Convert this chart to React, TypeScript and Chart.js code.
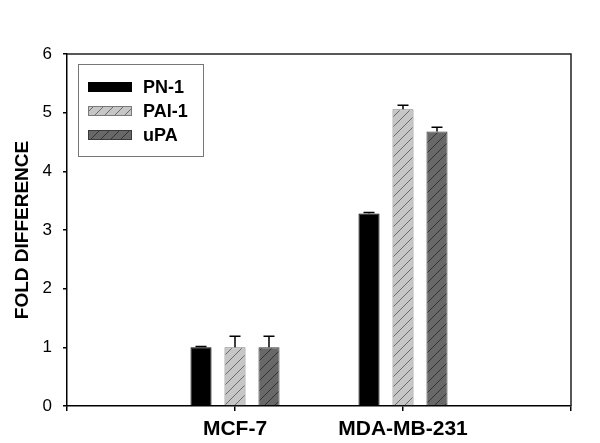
import React, { useEffect, useRef } from 'react';
import { Chart, registerables } from 'chart.js';

Chart.register(...registerables);

const categories = ['', 'MCF-7', 'MDA-MB-231', ''];
const seriesNames = ['PN-1', 'PAI-1', 'uPA'];
const pn1Values = [null, 1.0, 3.28, null];
const pn1Errors = [null, 0.015, 0.02, null];
const pai1Values = [null, 1.0, 5.06, null];
const pai1Errors = [null, 0.19, 0.065, null];
const upaValues = [null, 1.0, 4.68, null];
const upaErrors = [null, 0.19, 0.07, null];
const yTickValues = [0, 1, 2, 3, 4, 5, 6];
const yTitle = 'FOLD DIFFERENCE';

const FONT = 'Arial, "Liberation Sans", sans-serif';

function makeHatch(fill: string, line: string): CanvasPattern | string {
  const c = document.createElement('canvas');
  c.width = 10;
  c.height = 10;
  const ctx = c.getContext('2d');
  if (!ctx) return fill;
  ctx.fillStyle = fill;
  ctx.fillRect(0, 0, 10, 10);
  ctx.strokeStyle = line;
  ctx.lineWidth = 1;
  ctx.beginPath();
  ctx.moveTo(-1, 11);
  ctx.lineTo(11, -1);
  ctx.moveTo(-6, 6);
  ctx.lineTo(6, -6);
  ctx.moveTo(4, 16);
  ctx.lineTo(16, 4);
  ctx.stroke();
  const p = ctx.createPattern(c, 'repeat');
  return p || fill;
}

export default function App() {
  const ref = useRef<HTMLCanvasElement | null>(null);

  useEffect(() => {
    if (!ref.current) return;
    const paiPattern = makeHatch('#c6c6c6', '#6a6a6a');
    const upaPattern = makeHatch('#686868', '#333333');
    const errors = [pn1Errors, pai1Errors, upaErrors];

    const errorBars = {
      id: 'errorBars',
      afterDatasetsDraw(chart: any) {
        const ctx = chart.ctx;
        const yScale = chart.scales.y;
        ctx.save();
        ctx.strokeStyle = '#000';
        ctx.lineWidth = 1.5;
        chart.data.datasets.forEach((ds: any, di: number) => {
          const meta = chart.getDatasetMeta(di);
          meta.data.forEach((el: any, i: number) => {
            const v = ds.data[i];
            const e = errors[di][i];
            if (v == null || e == null) return;
            const yTop = yScale.getPixelForValue(v + e);
            const yBar = yScale.getPixelForValue(v);
            ctx.beginPath();
            ctx.moveTo(el.x, yBar);
            ctx.lineTo(el.x, yTop);
            ctx.moveTo(el.x - 5.5, yTop);
            ctx.lineTo(el.x + 5.5, yTop);
            ctx.stroke();
          });
        });
        ctx.restore();
      },
    };

    const frameAndLegend = {
      id: 'frameAndLegend',
      afterDraw(chart: any) {
        const ctx = chart.ctx;
        const a = chart.chartArea;
        ctx.save();
        ctx.strokeStyle = '#222';
        ctx.lineWidth = 1.5;
        ctx.beginPath();
        ctx.moveTo(a.left, a.top);
        ctx.lineTo(a.right, a.top);
        ctx.lineTo(a.right, a.bottom);
        ctx.stroke();

        // legend box
        const bx = a.left + 11;
        const by = a.top + 10;
        const bw = 125;
        const bh = 92;
        ctx.fillStyle = '#fff';
        ctx.fillRect(bx, by, bw, bh);
        ctx.strokeStyle = '#777';
        ctx.lineWidth = 1;
        ctx.strokeRect(bx + 0.5, by + 0.5, bw, bh);
        chart.data.datasets.forEach((ds: any, i: number) => {
          const cy = by + 23 + i * 24;
          ctx.fillStyle = ds.backgroundColor;
          ctx.fillRect(bx + 10, cy - 5, 44, 10);
          ctx.strokeStyle = ds.borderColor;
          ctx.lineWidth = 1;
          ctx.strokeRect(bx + 10.5, cy - 4.5, 43, 9);
          ctx.fillStyle = '#000';
          ctx.font = 'bold 18px ' + FONT;
          ctx.textBaseline = 'middle';
          ctx.textAlign = 'left';
          ctx.fillText(ds.label, bx + 65, cy + 1);
        });
        ctx.restore();
      },
    };

    const chart = new Chart(ref.current, {
      type: 'bar',
      data: {
        labels: categories,
        datasets: [
          {
            label: seriesNames[0],
            data: pn1Values,
            backgroundColor: '#000000',
            borderColor: '#000000',
            borderWidth: 1,
          },
          {
            label: seriesNames[1],
            data: pai1Values,
            backgroundColor: paiPattern as any,
            borderColor: '#7a7a7a',
            borderWidth: 1,
          },
          {
            label: seriesNames[2],
            data: upaValues,
            backgroundColor: upaPattern as any,
            borderColor: '#3a3a3a',
            borderWidth: 1,
          },
        ],
      },
      options: {
        responsive: false,
        animation: false,
        devicePixelRatio: 1,
        layout: { padding: { left: 0, top: 54, right: 29, bottom: 0 } },
        datasets: {
          bar: { categoryPercentage: 0.607, barPercentage: 0.62 },
        },
        plugins: {
          legend: { display: false },
          tooltip: { enabled: false },
          title: { display: false },
        },
        scales: {
          x: {
            type: 'category',
            offset: false,
            grid: {
              offset: false,
              drawOnChartArea: false,
              drawTicks: true,
              tickLength: 5,
              color: '#000',
              lineWidth: 1.5,
            },
            border: { display: true, color: '#000', width: 1.5 },
            ticks: {
              color: '#000',
              font: { family: FONT, size: 21, weight: 'bold' },
              padding: 6,
              maxRotation: 0,
              autoSkip: false,
            },
            afterFit(scale: any) {
              scale.height = 37;
            },
          },
          y: {
            min: 0,
            max: 6,
            afterBuildTicks(scale: any) {
              scale.ticks = yTickValues.map((v) => ({ value: v }));
            },
            grid: {
              drawOnChartArea: false,
              drawTicks: true,
              tickLength: 4,
              color: '#000',
              lineWidth: 1.5,
            },
            border: { display: true, color: '#000', width: 1.5 },
            ticks: {
              color: '#000',
              font: { family: FONT, size: 17 },
              padding: 11,
            },
            title: {
              display: true,
              text: yTitle,
              color: '#000',
              font: { family: FONT, size: 19, weight: 'bold' },
              padding: { top: 11, bottom: 0 },
            },
            afterFit(scale: any) {
              scale.width = 67;
            },
          },
        },
      },
      plugins: [errorBars, frameAndLegend],
    } as any);

    return () => chart.destroy();
  }, []);

  return (
    <div style={{ position: 'absolute', left: 0, top: 0, width: 600, height: 443, background: '#fff' }}>
      <canvas ref={ref} width={600} height={443} />
    </div>
  );
}
